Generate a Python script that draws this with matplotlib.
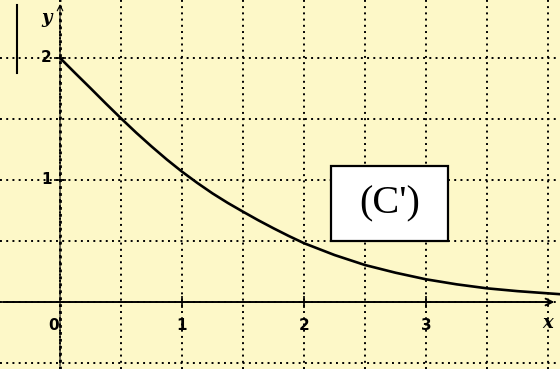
import matplotlib
matplotlib.use("Agg")
import matplotlib.pyplot as plt
from matplotlib.patches import Rectangle
import numpy as np

# values
curve_x = [0.0, 0.125, 0.25, 0.375, 0.5, 0.625, 0.75, 0.875, 1.0, 1.125, 1.25, 1.375, 1.5,
           1.625, 1.75, 1.875, 2.0, 2.25, 2.5, 2.75, 3.0, 3.25, 3.5, 3.75, 4.0, 4.1]
curve_y = [2.0, 1.875, 1.752, 1.627, 1.505, 1.387, 1.275, 1.168, 1.068, 0.976, 0.89, 0.812, 0.74,
           0.670, 0.604, 0.541, 0.482, 0.385, 0.303, 0.24, 0.186, 0.145, 0.112, 0.089, 0.071, 0.064]
x_ticks = [1, 2, 3]
y_ticks = [1, 2]
label_text = "(C')"

bg = "#FDF8C8"
fig = plt.figure(figsize=(5.6, 3.69), dpi=100)
fig.patch.set_facecolor(bg)
ax = fig.add_axes([0, 0, 1, 1])
ax.set_facecolor(bg)
ax.set_xlim(-0.492, 4.098)
ax.set_ylim(-0.549, 2.475)
ax.axis("off")

# dotted grid
dots = (0, (1, 2.2))
for gx in np.arange(-0.5, 4.01, 0.5):
    ax.axvline(gx, color="black", lw=1.4, linestyle=dots, zorder=1)
for gy in np.arange(-0.5, 2.51, 0.5):
    ax.axhline(gy, color="black", lw=1.4, linestyle=dots, zorder=1)

# axes with arrows
ax.annotate("", xy=(4.075, 0), xytext=(-0.492, 0),
            arrowprops=dict(arrowstyle="->", color="black", lw=1.4, mutation_scale=12), zorder=3)
ax.annotate("", xy=(0, 2.465), xytext=(0, -0.549),
            arrowprops=dict(arrowstyle="->", color="black", lw=0.8, mutation_scale=10), zorder=3)
ax.axvline(0, color="black", lw=2.0, linestyle=(0, (1, 1.5)), zorder=2)

# tick marks
ax.plot(x_ticks, [0] * len(x_ticks), linestyle="none", marker="|", markersize=9,
        markeredgewidth=1.2, color="black", zorder=3)
ax.plot([0] * len(y_ticks), y_ticks, linestyle="none", marker="_", markersize=9,
        markeredgewidth=1.2, color="black", zorder=3)

# tick labels
ax.text(-0.05, -0.19, "0", ha="center", va="center", fontsize=11, fontweight="bold")
for t in x_ticks:
    ax.text(t, -0.19, str(t), ha="center", va="center", fontsize=11, fontweight="bold")
for t in y_ticks:
    ax.text(-0.11, t, str(t), ha="center", va="center", fontsize=11, fontweight="bold")

ax.text(4.0, -0.17, "x", ha="center", va="center", fontsize=13, fontweight="bold",
        style="italic", family="DejaVu Serif")
ax.text(-0.11, 2.33, "y", ha="center", va="center", fontsize=13, fontweight="bold",
        style="italic", family="DejaVu Serif")

# curve
ax.plot(curve_x, curve_y, color="black", lw=1.9, zorder=4, solid_capstyle="round",
        solid_joinstyle="round")

# label box
ax.add_patch(Rectangle((2.22, 0.5), 0.96, 0.615, facecolor="white", edgecolor="black",
                       lw=1.6, zorder=5))
ax.text(2.70, 0.80, label_text, ha="center", va="center", fontsize=29,
        family="Liberation Serif", zorder=6)

# stray vertical bar at top-left
ax.plot([-0.352, -0.352], [1.877, 2.434], color="black", lw=1.5)

fig.savefig("out.png", dpi=100, facecolor=bg)
